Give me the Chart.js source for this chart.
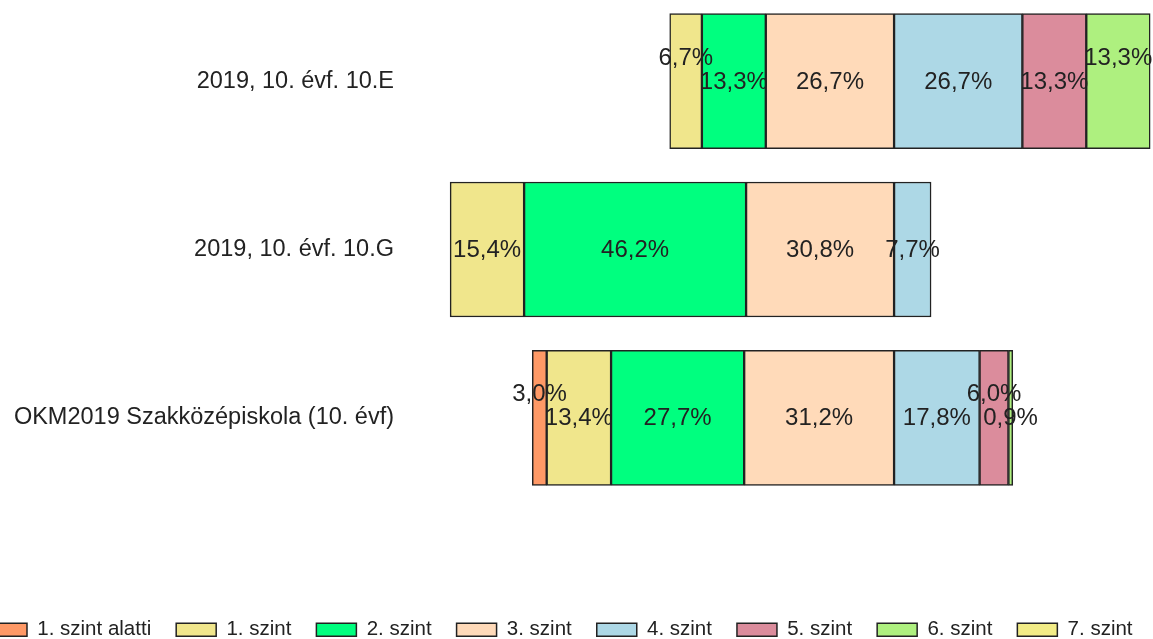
<!DOCTYPE html>
<html>
<head>
<meta charset="utf-8">
<script src="https://cdn.jsdelivr.net/npm/chart.js@4.4.1/dist/chart.umd.min.js"></script>
<style>
    html, body { margin: 0; padding: 0; background: #fff; overflow: hidden; }
    body { width: 1153px; height: 639px; position: relative; }
    /* the reference is cropped on the left, so the canvas is shifted a little */
    #wrap { position: absolute; left: -44px; top: -3px; width: 1260px; height: 653px; }
</style>
</head>
<body>
<div id="wrap"><canvas id="myChart"></canvas></div>
<script>
// Data (percent of students per level)
const categories = ['2019, 10. évf. 10.E', '2019, 10. évf. 10.G', 'OKM2019 Szakközépiskola (10. évf)'];
const levels = ['1. szint alatti', '1. szint', '2. szint', '3. szint', '4. szint', '5. szint', '6. szint', '7. szint'];

const belowLevel1 = [0, 0, 3.0];
const level1 = [6.7, 15.4, 13.4];
const level2 = [13.3, 46.2, 27.7];
const level3 = [26.7, 30.8, 31.2];
const level4 = [26.7, 7.7, 17.8];
const level5 = [13.3, 0, 6.0];
const level6 = [13.3, 0, 0.9];
const level7 = [0, 0, 0];

const colors = {
    '1. szint alatti': '#FF9966',
    '1. szint': '#F0E68C',
    '2. szint': '#00FF7F',
    '3. szint': '#FFDAB9',
    '4. szint': '#ADD8E6',
    '5. szint': '#DB8C9C',
    '6. szint': '#AEF07F',
    '7. szint': '#F2EC86'
};

// labels that sit higher than the bar centre in the reference: [level, category index]
const raisedLabels = [['1. szint', 0], ['6. szint', 0], ['1. szint alatti', 2], ['5. szint', 2]];

// levels 3 and below go to the left of the centre line, stacked outward from it
function makeSet(label, values, left) {
    return {
        label: label,
        data: values.map(v => left ? -v : v),
        backgroundColor: colors[label],
        borderColor: '#222',
        borderWidth: 1.5,
        borderSkipped: false,
        barThickness: 135,
        stack: 's'
    };
}

const datasets = [
    makeSet('3. szint', level3, true),
    makeSet('2. szint', level2, true),
    makeSet('1. szint', level1, true),
    makeSet('1. szint alatti', belowLevel1, true),
    makeSet('4. szint', level4, false),
    makeSet('5. szint', level5, false),
    makeSet('6. szint', level6, false),
    makeSet('7. szint', level7, false)
];

const textFont = '"Liberation Sans", Arial, sans-serif';

const segmentLabels = {
    id: 'segmentLabels',
    afterDatasetsDraw(chart) {
        const ctx = chart.ctx;
        ctx.save();
        ctx.font = '24px ' + textFont;
        ctx.fillStyle = '#222';
        ctx.textAlign = 'center';
        ctx.textBaseline = 'middle';
        chart.data.datasets.forEach((ds, i) => {
            const meta = chart.getDatasetMeta(i);
            meta.data.forEach((bar, j) => {
                const v = Math.abs(ds.data[j]);
                if (!v) return;
                const p = bar.getProps(['x', 'y', 'base'], true);
                let ty = p.y + 1;
                if (raisedLabels.some(r => r[0] === ds.label && r[1] === j)) ty -= 24;
                ctx.fillText(v.toFixed(1).replace('.', ',') + '%', (p.x + p.base) / 2, ty);
            });
        });
        ctx.restore();
    }
};

document.addEventListener('DOMContentLoaded', function () {
    const ctx = document.getElementById('myChart').getContext('2d');
    new Chart(ctx, {
        type: 'bar',
        data: { labels: categories, datasets: datasets },
        plugins: [segmentLabels],
        options: {
            indexAxis: 'y',
            responsive: true,
            maintainAspectRatio: false,
            animation: false,
            layout: { padding: { left: 6, right: 0, top: 0, bottom: 0 } },
            scales: {
                x: {
                    stacked: true,
                    min: -102,
                    max: 67,
                    grid: { display: false },
                    border: { display: false },
                    ticks: { display: false },
                    afterFit: function (scale) { scale.height = 92.5; }
                },
                y: {
                    stacked: true,
                    grid: { display: false },
                    border: { display: false },
                    ticks: {
                        padding: 2,
                        color: '#222',
                        font: { family: textFont, size: 23.5 }
                    },
                    afterFit: function (scale) {
                        scale.width = 442;
                        scale.paddingTop = 0;
                        scale.paddingBottom = 0;
                    }
                }
            },
            plugins: {
                tooltip: { enabled: false },
                legend: {
                    position: 'bottom',
                    align: 'start',
                    labels: {
                        boxWidth: 40,
                        boxHeight: 13,
                        padding: 25,
                        color: '#222',
                        font: { family: textFont, size: 20.5 },
                        sort: (a, b) => levels.indexOf(a.text) - levels.indexOf(b.text)
                    }
                }
            }
        }
    });
});
</script>
</body>
</html>
